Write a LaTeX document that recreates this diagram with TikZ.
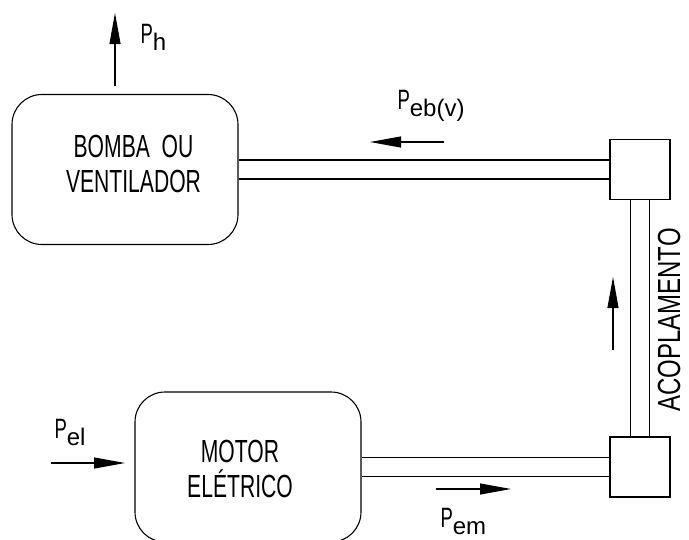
\documentclass[tikz,border=0pt]{standalone}
\usepackage{fontspec}
\setmainfont[FakeStretch=0.66]{Liberation Sans}
\newfontfamily\subfont{Liberation Sans}
\newfontfamily\largo[FakeStretch=0.75]{Liberation Sans}
\usetikzlibrary{arrows.meta}
\newcommand{\pot}[1]{{\fontsize{28}{28}\selectfont P}\raisebox{-7pt}{\subfont\fontsize{24}{24}\selectfont #1}}
\begin{document}
\begin{tikzpicture}[x=1pt,y=-1pt,line width=1.1pt,>={Triangle[length=31pt,width=11pt]},
  every node/.style={font=\fontsize{32}{35}\selectfont},
  caixa/.style={draw,rectangle,rounded corners=30pt,minimum width=226pt,minimum height=150pt},
  acop/.style={draw,rectangle,minimum width=60pt,minimum height=60pt},
  rot/.style={anchor=base west,inner sep=0pt}]
\useasboundingbox (0,0) rectangle (689,539);
\node[caixa] (b) at (125,169.5) {};
\node[caixa] (m) at (248,467) {};
\node[acop] (a1) at (640,169.5) {};
\node[acop] (a2) at (640,467) {};
\node[align=center,inner sep=0pt] (tb) at (133.5,164) {BOMBA~~OU\\VENTILADOR};
\node[align=center,inner sep=0pt] (tm) at (240,469) {MOTOR\\ELÉTRICO};
% eixos
\draw ([yshift=9.5pt]b.east) -- ([yshift=9.5pt]a1.west);
\draw ([yshift=-9.5pt]b.east) -- ([yshift=-9.5pt]a1.west);
\draw ([yshift=9.5pt]m.east) -- ([yshift=9.5pt]a2.west);
\draw ([yshift=-9.5pt]m.east) -- ([yshift=-9.5pt]a2.west);
\draw ([xshift=-9.5pt]a1.south) -- ([xshift=-9.5pt]a2.north);
\draw ([xshift=9.5pt]a1.south) -- ([xshift=9.5pt]a2.north);
% potencias
\coordinate (ph) at (115,13);
\coordinate (eb1) at (444,142);
\coordinate (eb2) at (370,142);
\coordinate (ac1) at (613,350);
\coordinate (ac2) at (613,277);
\coordinate (el1) at (51,463);
\coordinate (el2) at (125,463);
\coordinate (em1) at (436,489);
\coordinate (em2) at (511,489);
\draw[->] ([xshift=-10pt,yshift=8pt]b.north) -- (ph);
\draw[->] (eb1) -- (eb2);
\draw[->] (ac1) -- (ac2);
\draw[->] (el1) -- (el2);
\draw[->] (em1) -- (em2);
\node[rot] (lh) at (140,43) {\pot{h}};
\node[rot] (leb) at (397,109) {\pot{eb(v)}};
\node[rot] (lel) at (54,438) {\pot{el}};
\node[rot] (lem) at (440,527) {\pot{em}};
\node[rotate=90,anchor=base,inner sep=0pt,font=\largo\fontsize{32}{35}\selectfont] (lac) at (680,320) {ACOPLAMENTO};
\end{tikzpicture}
\end{document}
